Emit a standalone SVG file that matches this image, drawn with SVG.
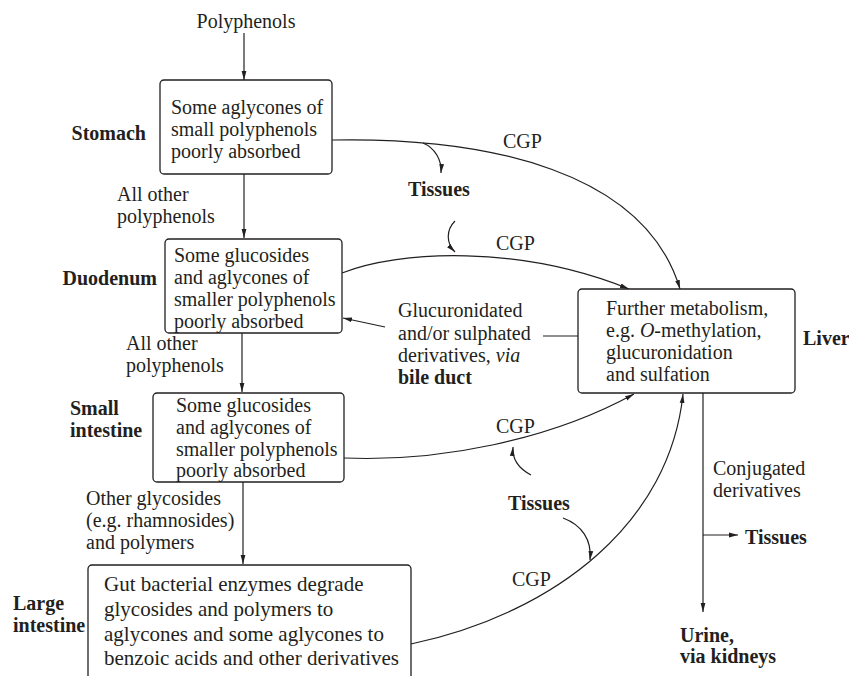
<svg xmlns="http://www.w3.org/2000/svg" width="849" height="676" viewBox="0 0 849 676">
  <style>
    text { font-family: "Liberation Serif", "Times New Roman", serif; font-size: 20px; fill: #231f20; }
    .b { font-weight: bold; }
    .box { fill: #ffffff; stroke: #231f20; stroke-width: 1.3; }
    .ln { fill: none; stroke: #231f20; stroke-width: 1.2; }
    .big { font-size: 21px; }
  </style>
  <defs>
    <marker id="ah" markerUnits="userSpaceOnUse" markerWidth="10" markerHeight="6" refX="9" refY="3" orient="auto">
      <path d="M0,0.6 L9,3 L0,5.4 z" fill="#231f20"/>
    </marker>
  </defs>
  <rect width="849" height="676" fill="#ffffff"/>

  <!-- connectors -->
  <g id="connectors" class="ln">
    <path class="ln" d="M244,33 V80" marker-end="url(#ah)"/>
    <path class="ln" d="M244,174 V238" marker-end="url(#ah)"/>
    <path class="ln" d="M242,333 V392" marker-end="url(#ah)"/>
    <path class="ln" d="M243,482 V564" marker-end="url(#ah)"/>
    <!-- CGP routes to the liver -->
    <path class="ln" d="M332,140 C 490,137 645,172 680,289" marker-end="url(#ah)"/>
    <path class="ln" d="M342,273 C 400,250 520,245 629,289" marker-end="url(#ah)"/>
    <path class="ln" d="M344,458 C 440,462 550,440 634,394" marker-end="url(#ah)"/>
    <path class="ln" d="M411,644 C 560,612 670,520 683,394" marker-end="url(#ah)"/>
    <!-- exchanges with tissues -->
    <path class="ln" d="M423,143 C 435,148 442,160 441,173" marker-end="url(#ah)"/>
    <path class="ln" d="M455,221 C 446,230 446,243 455,252" marker-end="url(#ah)"/>
    <path class="ln" d="M531,475 C 518,468 512,458 513,447" marker-end="url(#ah)"/>
    <path class="ln" d="M563,518 C 582,525 592,540 590,560" marker-end="url(#ah)"/>
    <!-- bile duct return -->
    <path class="ln" d="M543,336 H578"/>
    <path class="ln" d="M385,327 L343,318" marker-end="url(#ah)"/>
    <!-- liver outflow -->
    <path class="ln" d="M703,393 V612" marker-end="url(#ah)"/>
    <path class="ln" d="M703,535 H738" marker-end="url(#ah)"/>
  </g>

  <g id="polyphenols">
    <text x="246" y="28" text-anchor="middle">Polyphenols</text>
  </g>

  <g id="stomach">
    <rect class="box" x="160" y="80" width="172" height="94" rx="4"/>
    <text x="171" y="114">Some aglycones of</text>
    <text x="171" y="136">small polyphenols</text>
    <text x="171" y="158">poorly absorbed</text>
    <text class="b" x="146" y="140" text-anchor="end">Stomach</text>
  </g>

  <g id="duodenum">
    <rect class="box" x="165" y="239" width="177" height="94" rx="4"/>
    <text x="174" y="262">Some glucosides</text>
    <text x="174" y="284">and aglycones of</text>
    <text x="174" y="306">smaller polyphenols</text>
    <text x="174" y="328">poorly absorbed</text>
    <text class="b" x="157" y="285" text-anchor="end">Duodenum</text>
  </g>

  <g id="small-intestine">
    <rect class="box" x="153" y="393" width="191" height="89" rx="4"/>
    <text x="176" y="412">Some glucosides</text>
    <text x="176" y="434">and aglycones of</text>
    <text x="176" y="456">smaller polyphenols</text>
    <text x="176" y="477">poorly absorbed</text>
    <text class="b" x="70" y="415">Small</text>
    <text class="b" x="70" y="437">intestine</text>
  </g>

  <g id="large-intestine">
    <rect class="box" x="88" y="565" width="323" height="130" rx="4"/>
    <text class="big" x="104" y="591">Gut bacterial enzymes degrade</text>
    <text class="big" x="104" y="616">glycosides and polymers to</text>
    <text class="big" x="104" y="641">aglycones and some aglycones to</text>
    <text class="big" x="104" y="665">benzoic acids and other derivatives</text>
    <text class="b" x="13" y="610">Large</text>
    <text class="b" x="13" y="632">intestine</text>
  </g>

  <g id="liver">
    <rect class="box" x="578" y="289" width="217" height="104" rx="4"/>
    <text x="606" y="315">Further metabolism,</text>
    <text x="606" y="337">e.g. <tspan font-style="italic">O</tspan>-methylation,</text>
    <text x="606" y="359">glucuronidation</text>
    <text x="606" y="381">and sulfation</text>
    <text class="b" x="803" y="345">Liver</text>
  </g>

  <g id="labels">
    <text x="117" y="201">All other</text>
    <text x="117" y="223">polyphenols</text>
    <text x="126" y="350">All other</text>
    <text x="126" y="372">polyphenols</text>
    <text x="86" y="505">Other glycosides</text>
    <text x="86" y="527">(e.g. rhamnosides)</text>
    <text x="86" y="549">and polymers</text>
    <text x="503" y="148">CGP</text>
    <text x="496" y="250">CGP</text>
    <text x="496" y="433">CGP</text>
    <text x="512" y="586">CGP</text>
    <text x="398" y="317">Glucuronidated</text>
    <text x="398" y="340">and/or sulphated</text>
    <text x="398" y="362">derivatives, <tspan font-style="italic">via</tspan></text>
    <text class="b" x="398" y="384">bile duct</text>
    <text x="713" y="475">Conjugated</text>
    <text x="713" y="497">derivatives</text>
  </g>

  <g id="tissues">
    <text class="b" x="408" y="196">Tissues</text>
    <text class="b" x="508" y="510">Tissues</text>
    <text class="b" x="745" y="544">Tissues</text>
  </g>

  <g id="urine">
    <text class="b" x="680" y="642">Urine,</text>
    <text class="b" x="680" y="663">via kidneys</text>
  </g>
</svg>
